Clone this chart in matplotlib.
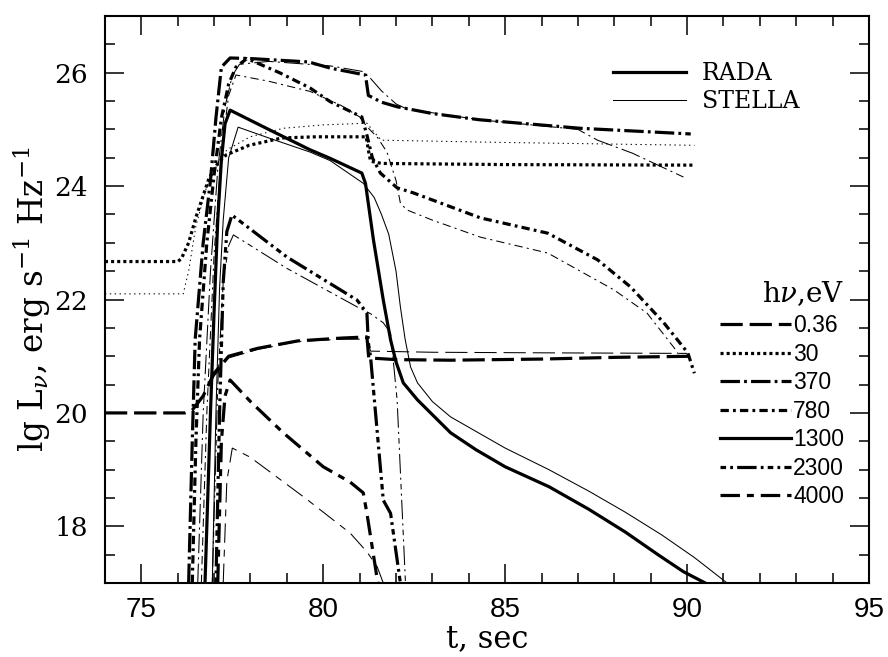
import numpy as np
import matplotlib
matplotlib.use('Agg')
import matplotlib.pyplot as plt
from matplotlib.lines import Line2D
from matplotlib.ticker import MultipleLocator

plt.rcParams['font.family'] = ['DejaVu Serif']
plt.rcParams['mathtext.fontset'] = 'dejavuserif'
plt.rcParams['lines.scale_dashes'] = False

# photon energies, eV
energies = ['0.36', '30', '370', '780', '1300', '2300', '4000']

# RADA (thick) and STELLA (thin) light curves: t [s], lg L_nu
rada_036_t = [74.0, 76.2, 76.4, 76.7, 77.0, 77.4, 78.2, 79.3, 80.5, 81.2, 81.25, 82.0, 83.5, 86.0, 88.0, 90.2]
rada_036_L = [20.0, 20.0, 20.05, 20.3, 20.7, 21.0, 21.14, 21.27, 21.32, 21.34, 20.97, 20.94, 20.93, 20.95, 20.98, 21.0]
stella_036_t = [74.0, 76.2, 76.5, 77.0, 77.4, 78.2, 79.3, 80.5, 81.2, 81.3, 83.0, 86.0, 90.0]
stella_036_L = [20.0, 20.0, 20.1, 20.65, 20.97, 21.12, 21.26, 21.3, 21.3, 21.09, 21.07, 21.06, 21.05]

rada_30_t = [74.0, 76.0, 76.1, 76.3, 76.5, 76.86, 77.1, 77.33, 77.96, 78.87, 79.8, 81.18, 81.25, 81.3, 81.6, 85.0, 90.2]
rada_30_L = [22.67, 22.67, 22.72, 23.0, 23.45, 24.14, 24.4, 24.55, 24.72, 24.85, 24.87, 24.87, 24.6, 24.44, 24.4, 24.38, 24.37]
stella_30_t = [74.0, 76.15, 76.3, 76.5, 76.8, 77.1, 77.35, 77.99, 78.9, 80.0, 81.2, 81.4, 81.6, 85.0, 90.2]
stella_30_L = [22.1, 22.1, 22.5, 23.3, 24.0, 24.4, 24.64, 24.87, 25.02, 25.08, 25.11, 24.95, 24.81, 24.77, 24.72]

rada_370_t = [76.3, 76.4, 76.48, 76.7, 76.9, 77.05, 77.2, 77.44, 78.0, 79.6, 80.2, 81.16, 81.24, 81.6, 82.03, 83.0, 84.3, 87.07, 90.1]
rada_370_L = [17.0, 19.5, 21.3, 23.0, 24.1, 25.2, 26.1, 26.26, 26.25, 26.19, 26.08, 25.96, 25.6, 25.48, 25.4, 25.28, 25.17, 25.02, 24.92]
stella_370_t = [76.55, 76.7, 76.9, 77.1, 77.3, 77.5, 77.7, 78.5, 80.2, 81.1, 81.3, 81.6, 82.0, 82.3, 84.3, 87.0, 87.54, 88.5, 89.9]
stella_370_L = [17.0, 20.0, 22.5, 24.3, 25.4, 25.95, 26.15, 26.2, 26.12, 26.02, 25.9, 25.68, 25.45, 25.36, 25.17, 25.0, 24.81, 24.58, 24.16]

rada_780_t = [76.4, 76.5, 76.6, 76.8, 77.0, 77.2, 77.4, 77.6, 77.9, 78.8, 79.64, 80.19, 81.06, 81.2, 81.35, 81.57,
              82.03, 82.48, 84.32, 86.17, 87.54, 88.45, 89.36, 90.02, 90.2]
rada_780_L = [17.0, 19.5, 21.3, 23.0, 24.2, 25.2, 25.8, 26.1, 26.25, 26.0, 25.73, 25.49, 25.22, 24.9, 24.5, 24.23,
              23.97, 23.88, 23.44, 23.17, 22.70, 22.22, 21.59, 21.06, 20.7]
stella_780_t = [76.65, 76.8, 77.0, 77.2, 77.4, 77.6, 78.5, 79.64, 80.5, 81.0, 81.2, 81.5, 81.75, 82.0, 82.12, 82.3,
                83.0, 84.32, 86.17, 87.99, 88.9, 89.63, 89.8]
stella_780_L = [17.0, 20.0, 22.8, 24.6, 25.6, 25.96, 25.85, 25.67, 25.42, 25.22, 25.05, 24.85, 24.6, 24.1, 23.7, 23.58,
                23.4, 23.1, 22.82, 22.17, 21.76, 21.16, 21.0]

rada_1300_t = [76.75, 76.9, 77.0, 77.1, 77.2, 77.3, 77.44, 78.5, 79.64, 80.19, 81.06, 81.16, 81.38, 81.65, 81.85, 82.0,
               82.2, 82.59, 83.5, 84.2, 85.0, 86.2, 87.3, 88.3, 89.2, 89.9, 90.5]
rada_1300_L = [17.0, 20.0, 21.8, 23.4, 24.46, 25.1, 25.34, 25.0, 24.64, 24.49, 24.23, 24.05, 23.05, 21.99, 21.29, 20.9,
               20.53, 20.23, 19.65, 19.35, 19.05, 18.7, 18.3, 17.9, 17.5, 17.2, 17.0]
stella_1300_t = [76.95, 77.05, 77.15, 77.25, 77.4, 77.66, 78.5, 79.64, 80.19, 81.1, 81.4, 81.6, 81.8, 82.0, 82.12,
                 82.25, 82.4, 82.59, 83.0, 83.5, 85.0, 86.2, 87.3, 88.3, 89.3, 90.2, 90.8, 91.1]
stella_1300_L = [17.0, 20.0, 22.2, 23.4, 24.5, 25.04, 24.85, 24.6, 24.45, 24.05, 23.8, 23.5, 23.15, 22.5, 21.87,
                 21.3, 20.81, 20.53, 20.2, 19.93, 19.38, 19.0, 18.62, 18.25, 17.85, 17.45, 17.15, 17.0]

rada_2300_t = [77.05, 77.15, 77.25, 77.35, 77.49, 79.0, 80.93, 81.2, 81.24, 81.3, 81.65, 81.85, 82.12]
rada_2300_L = [17.0, 20.0, 22.3, 23.2, 23.49, 22.75, 21.99, 21.76, 21.23, 20.99, 18.46, 18.23, 17.0]
stella_2300_t = [76.95, 77.1, 77.25, 77.4, 77.53, 79.0, 80.93, 81.3, 81.65, 81.85, 82.03, 82.26]
stella_2300_L = [17.0, 20.5, 22.3, 22.95, 23.14, 22.55, 21.87, 21.75, 21.59, 21.41, 20.23, 17.0]

rada_4000_t = [77.1, 77.2, 77.3, 77.44, 78.0, 78.9, 80.0, 80.74, 81.1, 81.2, 81.5]
rada_4000_L = [17.0, 19.5, 20.3, 20.58, 20.2, 19.65, 19.05, 18.78, 18.59, 18.23, 17.0]
stella_4000_t = [77.25, 77.35, 77.5, 77.99, 79.5, 80.74, 81.2, 81.48, 81.65]
stella_4000_L = [17.0, 18.8, 19.38, 19.22, 18.5, 17.88, 17.55, 17.29, 17.0]

rada = [(rada_036_t, rada_036_L), (rada_30_t, rada_30_L), (rada_370_t, rada_370_L), (rada_780_t, rada_780_L),
        (rada_1300_t, rada_1300_L), (rada_2300_t, rada_2300_L), (rada_4000_t, rada_4000_L)]
stella = [(stella_036_t, stella_036_L), (stella_30_t, stella_30_L), (stella_370_t, stella_370_L),
          (stella_780_t, stella_780_L), (stella_1300_t, stella_1300_L), (stella_2300_t, stella_2300_L),
          (stella_4000_t, stella_4000_L)]

# dash patterns (points) for each energy
dashes = [(16, 5), (2.2, 2.2), (14, 3, 2, 3), (6, 3, 2, 3), (), (4, 3, 2, 3, 14, 3, 2, 3), (14, 5, 5, 5)]
thin_dashes = [(16, 5), (1.0, 2.5), (14, 3, 1.5, 3), (6, 3, 1.5, 3), (), (4, 3, 1.5, 3, 14, 3, 1.5, 3), (14, 5, 5, 5)]
lw_thick, lw_thin = 2.3, 0.75

fig = plt.figure(figsize=(8.88, 6.57), dpi=100)
ax = fig.add_axes([0.1182, 0.1126, 0.8604, 0.863])

for i in range(len(energies)):
    t, L = stella[i]
    ln, = ax.plot(t, L, color='k', lw=lw_thin)
    if thin_dashes[i]:
        ln.set_dashes(thin_dashes[i])
    t, L = rada[i]
    ln, = ax.plot(t, L, color='k', lw=lw_thick)
    if dashes[i]:
        ln.set_dashes(dashes[i])

ax.set_xlim(74, 95)
ax.set_ylim(17, 27)
ax.xaxis.set_major_locator(MultipleLocator(5))
ax.xaxis.set_minor_locator(MultipleLocator(1))
ax.yaxis.set_major_locator(MultipleLocator(2))
ax.yaxis.set_minor_locator(MultipleLocator(0.5))
ax.tick_params(which='both', direction='in', top=True, right=True, width=1.1)
ax.tick_params(which='major', length=14)
ax.tick_params(which='minor', length=7)
for s in ax.spines.values():
    s.set_linewidth(1.5)
for lab in ax.get_xticklabels():
    lab.set_family('Liberation Sans')
    lab.set_fontsize(20)
for lab in ax.get_yticklabels():
    lab.set_fontsize(19)
ax.tick_params(axis='x', pad=10)
ax.tick_params(axis='y', pad=12)

ax.set_xlabel('t, sec', fontsize=22, labelpad=0)
ax.set_ylabel(r'lg L$_\nu$, erg s$^{-1}$ Hz$^{-1}$', fontsize=23.5, labelpad=1)

# code legend
h_code = [Line2D([], [], color='k', lw=lw_thick), Line2D([], [], color='k', lw=lw_thin)]
leg1 = ax.legend(h_code, ['RADA', 'STELLA'], loc='upper left', bbox_to_anchor=(0.665, 0.919),
                 frameon=False, fontsize=17, handlelength=3.1, handletextpad=0.65, labelspacing=0.22,
                 borderpad=0, borderaxespad=0)
ax.add_artist(leg1)

# energy legend
h_en = []
for i in range(len(energies)):
    h = Line2D([], [], color='k', lw=lw_thick)
    if dashes[i]:
        h.set_dashes(dashes[i])
    h_en.append(h)
leg2 = ax.legend(h_en, energies, loc='upper left', bbox_to_anchor=(0.805, 0.535), frameon=False,
                 prop={'family': 'Liberation Sans', 'size': 16.5}, handlelength=3.1, handletextpad=0.1,
                 labelspacing=0.24, borderpad=0, borderaxespad=0, title=r'h$\nu$,eV',
                 title_fontproperties={'family': 'DejaVu Serif', 'size': 20}, alignment='right')

fig.savefig('out.png', dpi=100)
